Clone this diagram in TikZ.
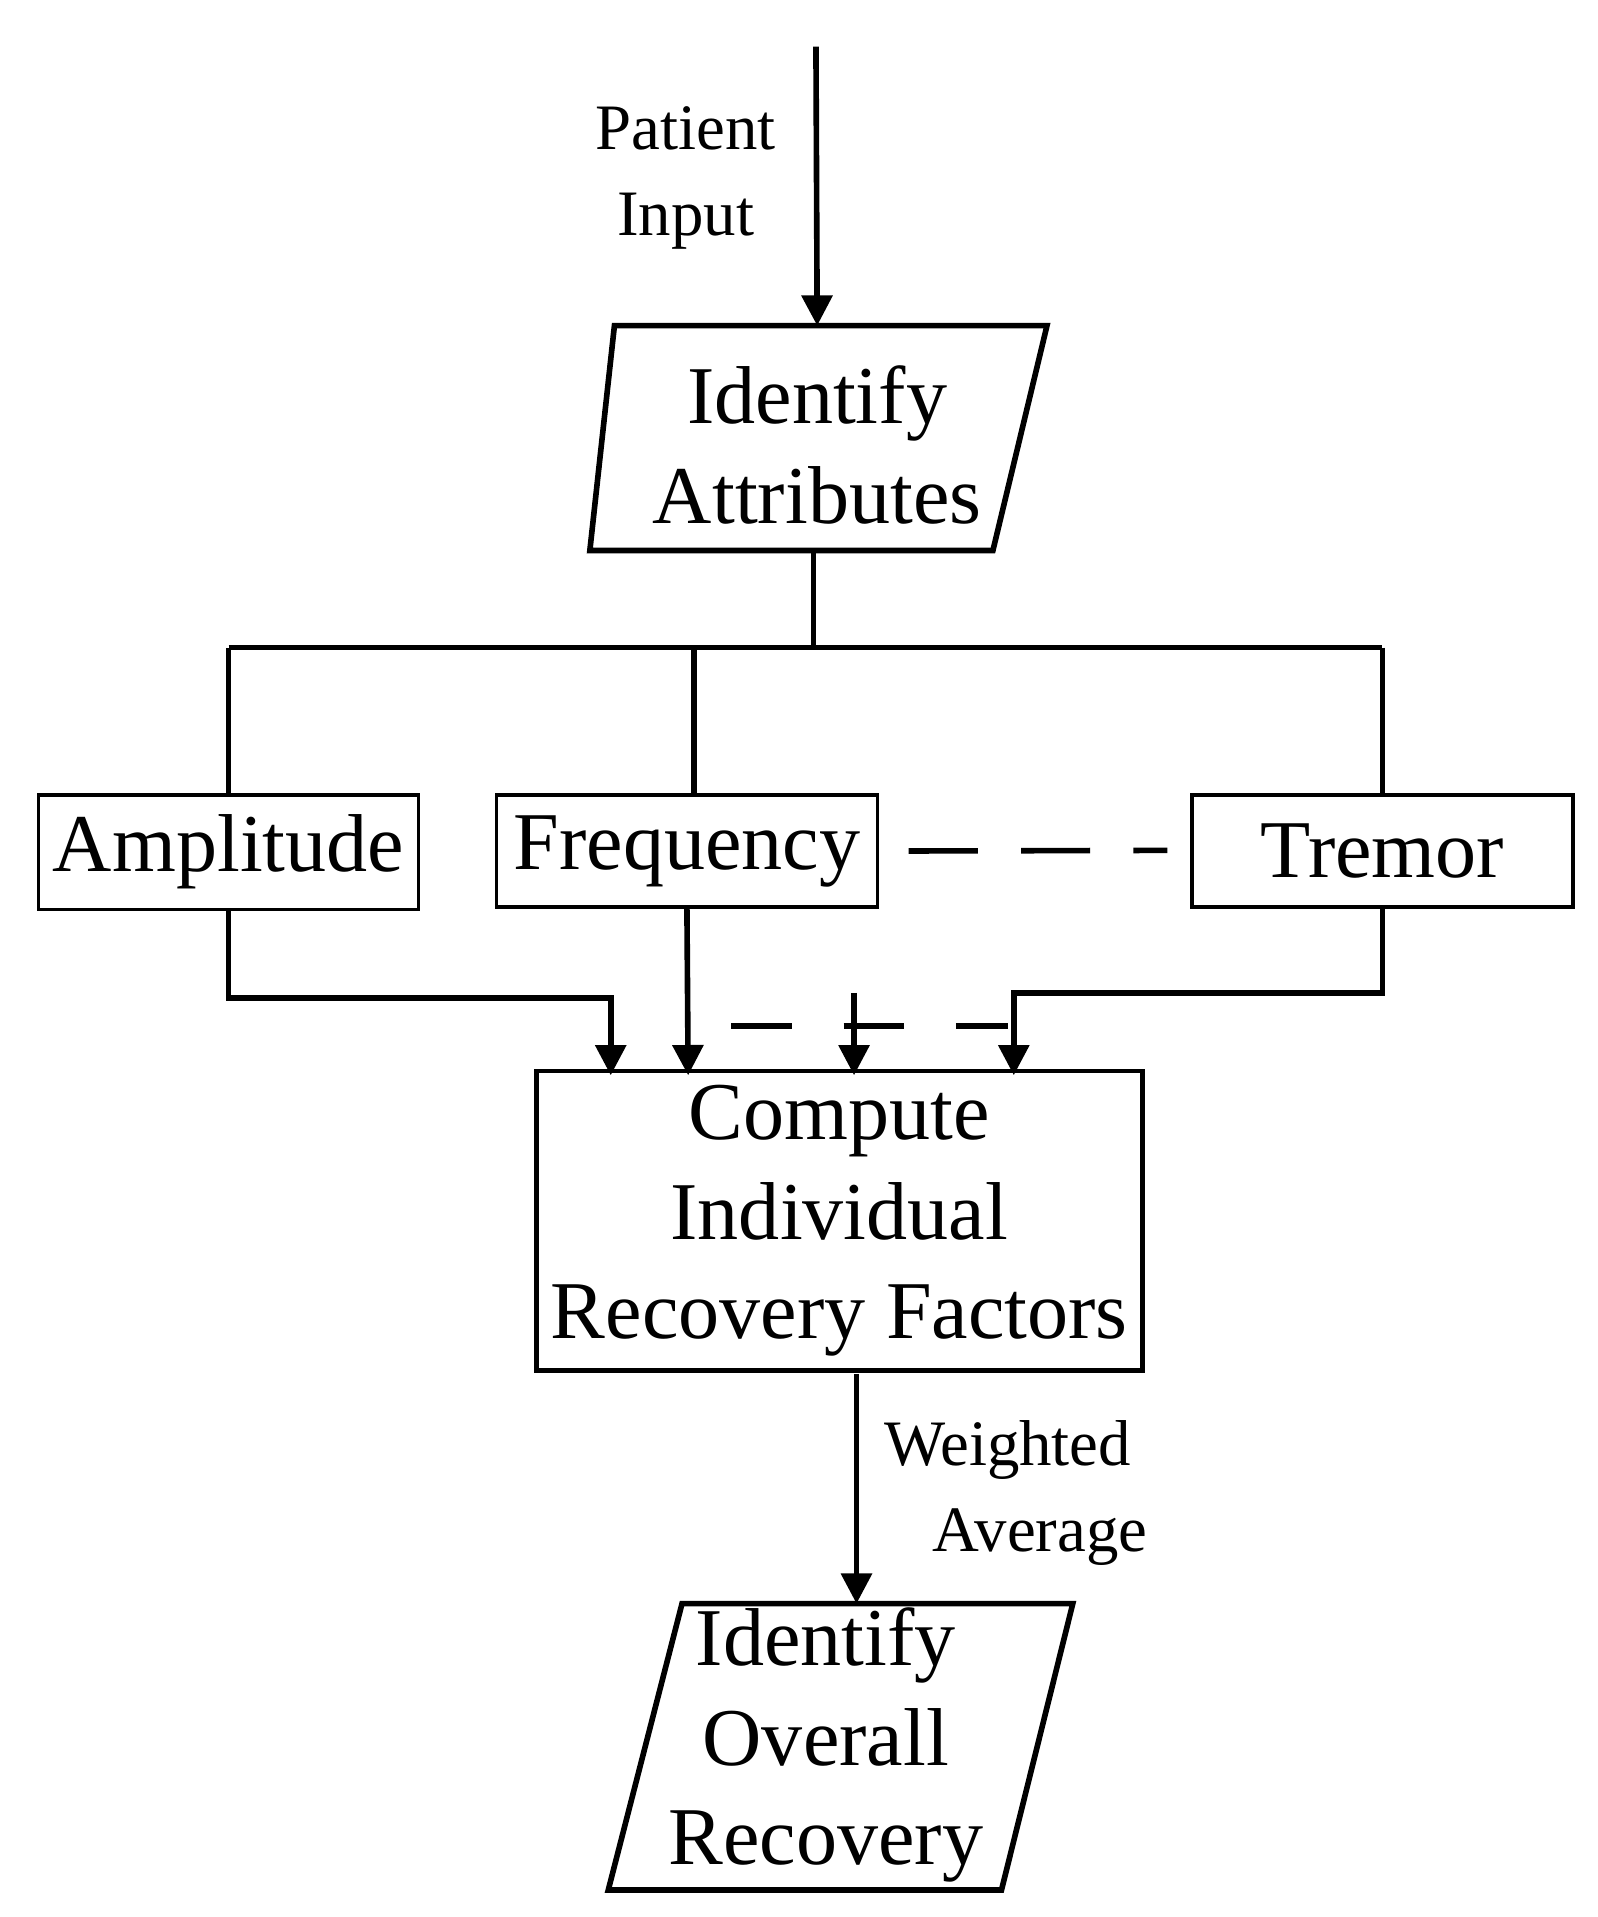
\documentclass[tikz,border=0pt]{standalone}
\usepackage{fontspec}
\setmainfont{Liberation Serif}
\usetikzlibrary{arrows.meta}
\begin{document}
\begin{tikzpicture}[x=0.01cm,y=-0.01cm,
  ln/.style={line width=1.3pt},
  ar/.style={ln,-{Triangle[length=7pt,width=7pt]}},
  box/.style={draw,line width=0.8pt,minimum width=308\pgflinewidth,inner sep=0pt},
  big/.style={font=\fontsize{19}{23}\selectfont,align=center},
  lab/.style={font=\fontsize{15}{20}\selectfont,align=center}]
\useasboundingbox (0,0) rectangle (1300,1560);
\coordinate (top) at (664,38);
\node[lab] (pi) at (558,145) {Patient\\Input};
\draw[ln] (500,265)--(852,265)--(808,448)--(480,448)--cycle;
\coordinate (p1t) at (665,265);
\coordinate (p1b) at (662,448);
\node[big] (ia) at (665,362) {Identify\\Attributes};
\draw[ar] (top)--(p1t);
\coordinate (j) at (662,527);
\draw[ln] (p1b)--(j);
\draw[ln] (186,527)--(1125,527);
\node[draw,line width=0.8pt,minimum width=3.08cm,minimum height=0.93cm,big] (amp) at (186,693.5) {Amplitude};
\node[draw,line width=0.8pt,minimum width=3.10cm,minimum height=0.91cm,big] (fre) at (559,692.5) {Frequency};
\node[draw,line width=0.8pt,minimum width=3.10cm,minimum height=0.91cm,big] (tre) at (1125,692.5) {Tremor};
\draw[ln] (186,527)--(amp.north);
\draw[ln] (565,527)--(565,647);
\draw[ln] (1125,527)--(tre.north);
\draw[ln,dash pattern=on 16pt off 10pt] (fre.east)++(24,0)--(950,692);
\node[draw,line width=1.1pt,minimum width=4.78cm,minimum height=2.37cm,big] (cmp) at (683,993.5) {Compute\\Individual\\Recovery Factors};
\draw[ar] (amp.south)--(186,812)--(497,812)--(497,875);
\draw[ar] (fre.south)--(560,875);
\draw[ln,dash pattern=on 14pt off 12pt] (595,835)--(820,835);
\draw[ar] (695,808)--(695,875);
\draw[ar] (tre.south)--(1125,808)--(825,808)--(825,875);
\draw[ln] (555,1305)--(873,1305)--(815,1538)--(495,1538)--cycle;
\coordinate (p2t) at (697,1305);
\draw[ar] (697,1118)--(p2t);
\node[lab] (wa) at (820,1215) {Weighted\\\quad Average};
\node[big] (io) at (672,1420) {Identify\\Overall\\Recovery};
\end{tikzpicture}
\end{document}
